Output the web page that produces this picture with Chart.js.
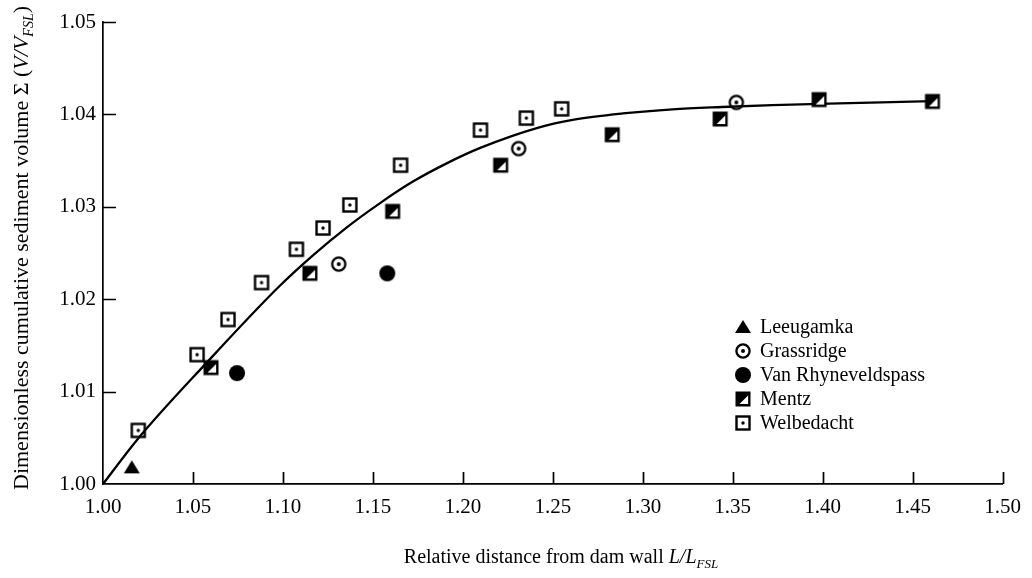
<!DOCTYPE html>
<html>
<head>
<meta charset="utf-8">
<title>Cumulative sediment volume</title>
<script src="https://cdn.jsdelivr.net/npm/chart.js@4"></script>
<style>
  html, body { margin: 0; padding: 0; background: #fff; }
  #wrap { width: 1032px; height: 578px; position: relative; }
</style>
</head>
<body>
<div id="wrap"><canvas id="chart"></canvas></div>
<script>
// Reservoir survey points, relative distance vs dimensionless cumulative volume
const leeugamkaX = [1.016];
const leeugamkaY = [1.0018];

const grassridgeX = [1.131, 1.231, 1.352];
const grassridgeY = [1.0238, 1.0363, 1.0413];

const vanRhynX = [1.0745, 1.158];
const vanRhynY = [1.0120, 1.0228];

const mentzX = [1.060, 1.115, 1.161, 1.221, 1.283, 1.343, 1.398, 1.461];
const mentzY = [1.0126, 1.0228, 1.0295, 1.0345, 1.0378, 1.0395, 1.0416, 1.0414];

const welbedachtX = [1.0196, 1.0523, 1.0695, 1.0881, 1.1075, 1.1223, 1.1372, 1.1654, 1.2098, 1.2353, 1.2549];
const welbedachtY = [1.0058, 1.0140, 1.0178, 1.0218, 1.0254, 1.0277, 1.0302, 1.0345, 1.0383, 1.0396, 1.0406];

// fitted curve through the data
const curveX = [1.000, 1.019, 1.057, 1.098, 1.117, 1.135, 1.154, 1.172, 1.191, 1.210, 1.2425, 1.261, 1.289, 1.3165, 1.344, 1.372, 1.409, 1.455, 1.4645];
const curveY = [1.0000, 1.0048, 1.0130, 1.0214, 1.0248, 1.0277, 1.0304, 1.0327, 1.0347, 1.0364, 1.0386, 1.0394, 1.0401, 1.04055, 1.0408, 1.0410, 1.0412, 1.0414, 1.04145];

const xTicks = [1.00, 1.05, 1.10, 1.15, 1.20, 1.25, 1.30, 1.35, 1.40, 1.45, 1.50];
const yTicks = [1.00, 1.01, 1.02, 1.03, 1.04, 1.05];

const SERIF = '"Liberation Serif", "DejaVu Serif", serif';

const toPoints = (xs, ys) => xs.map((x, i) => ({ x, y: ys[i] }));

// small canvases used as point styles
const makeMarker = (kind) => {
  const s = 20;
  const c = document.createElement('canvas');
  c.width = s;
  c.height = s;
  const g = c.getContext('2d');
  const m = s / 2;
  g.fillStyle = '#000';
  g.strokeStyle = '#000';
  if (kind === 'triangle') {
    g.beginPath();
    g.moveTo(m, m - 7);
    g.lineTo(m + 8, m + 6);
    g.lineTo(m - 8, m + 6);
    g.closePath();
    g.fill();
  } else if (kind === 'ringdot') {
    g.lineWidth = 2.3;
    g.beginPath();
    g.arc(m, m, 6.6, 0, Math.PI * 2);
    g.stroke();
    g.beginPath();
    g.arc(m, m, 2, 0, Math.PI * 2);
    g.fill();
  } else if (kind === 'disc') {
    g.beginPath();
    g.arc(m, m, 8, 0, Math.PI * 2);
    g.fill();
  } else if (kind === 'halfsquare') {
    const a = m - 7.5;
    g.fillRect(a, a, 15, 15);
    g.fillStyle = '#fff';
    g.beginPath();
    g.moveTo(a + 12.6, a + 4);
    g.lineTo(a + 12.6, a + 12.6);
    g.lineTo(a + 4, a + 12.6);
    g.closePath();
    g.fill();
  } else if (kind === 'squaredot') {
    g.lineWidth = 2.4;
    g.strokeRect(m - 6.5, m - 6.5, 13, 13);
    g.beginPath();
    g.arc(m, m, 1.7, 0, Math.PI * 2);
    g.fill();
  }
  return c;
};

const scatterSet = (label, xs, ys, kind) => ({
  type: 'scatter',
  label,
  data: toPoints(xs, ys),
  pointStyle: makeMarker(kind),
  showLine: false,
  order: 1,
});

// inward tick marks on both axes
const innerTicks = {
  id: 'innerTicks',
  afterDraw(chart) {
    const { ctx, chartArea, scales } = chart;
    ctx.save();
    ctx.strokeStyle = '#000';
    ctx.lineWidth = 1.7;
    ctx.beginPath();
    xTicks.forEach(v => {
      const px = Math.round(scales.x.getPixelForValue(v)) + 0.5;
      if (v === xTicks[0]) return;
      ctx.moveTo(px, chartArea.bottom);
      ctx.lineTo(px, chartArea.bottom - 12);
    });
    yTicks.forEach(v => {
      const py = Math.round(scales.y.getPixelForValue(v)) + 0.5;
      if (v === yTicks[0]) return;
      ctx.moveTo(chartArea.left, py);
      ctx.lineTo(chartArea.left + 13, py);
    });
    ctx.stroke();
    ctx.restore();
  },
};

// draws a run of text pieces with mixed styles, returns total width
const drawRuns = (ctx, runs, x, y, measureOnly) => {
  let cx = x;
  runs.forEach(r => {
    ctx.font = `${r.italic ? 'italic ' : ''}${r.size}px ${SERIF}`;
    if (!measureOnly) ctx.fillText(r.text, cx, y + (r.dy || 0));
    cx += ctx.measureText(r.text).width;
  });
  return cx - x;
};

const axisTitles = {
  id: 'axisTitles',
  afterDraw(chart) {
    const { ctx } = chart;
    ctx.save();
    ctx.fillStyle = '#000';
    ctx.textBaseline = 'alphabetic';
    ctx.textAlign = 'left';

    const xRuns = [
      { text: 'Relative distance from dam wall ', size: 20 },
      { text: 'L/L', size: 20, italic: true },
      { text: 'FSL', size: 13, italic: true, dy: 5 },
    ];
    const xw = drawRuns(ctx, xRuns, 0, 0, true);
    drawRuns(ctx, xRuns, 561 - xw / 2, 563);

    const yRuns = [
      { text: 'Dimensionless cumulative sediment volume \u03A3 (', size: 22 },
      { text: 'V/V', size: 22, italic: true },
      { text: 'FSL', size: 14, italic: true, dy: 5 },
      { text: ')', size: 22 },
    ];
    const yw = drawRuns(ctx, yRuns, 0, 0, true);
    ctx.translate(28, 248);
    ctx.rotate(-Math.PI / 2);
    drawRuns(ctx, yRuns, -yw / 2, 0);
    ctx.restore();
  },
};

// legend box inside the plot
const legendBox = {
  id: 'legendBox',
  afterDraw(chart) {
    const { ctx } = chart;
    const items = chart.data.datasets.filter(d => d.type === 'scatter');
    ctx.save();
    ctx.fillStyle = '#000';
    ctx.font = `20px ${SERIF}`;
    ctx.textBaseline = 'middle';
    ctx.textAlign = 'left';
    items.forEach((d, i) => {
      const y = 327 + i * 24;
      const img = d.pointStyle;
      ctx.drawImage(img, 743 - img.width / 2, y - img.height / 2);
      ctx.fillText(d.label, 760, y + 1);
    });
    ctx.restore();
  },
};

new Chart(document.getElementById('chart'), {
  data: {
    datasets: [
      scatterSet('Leeugamka', leeugamkaX, leeugamkaY, 'triangle'),
      scatterSet('Grassridge', grassridgeX, grassridgeY, 'ringdot'),
      scatterSet('Van Rhyneveldspass', vanRhynX, vanRhynY, 'disc'),
      scatterSet('Mentz', mentzX, mentzY, 'halfsquare'),
      scatterSet('Welbedacht', welbedachtX, welbedachtY, 'squaredot'),
      {
        type: 'line',
        label: 'fit',
        data: toPoints(curveX, curveY),
        borderColor: '#000',
        borderWidth: 2.3,
        pointRadius: 0,
        cubicInterpolationMode: 'monotone',
        fill: false,
        order: 2,
      },
    ],
  },
  options: {
    responsive: true,
    maintainAspectRatio: false,
    animation: false,
    layout: { padding: { left: 0, top: 22, right: 28, bottom: 0 } },
    plugins: {
      legend: { display: false },
      tooltip: { enabled: false },
    },
    scales: {
      x: {
        type: 'linear',
        min: 1.0,
        max: 1.5,
        afterBuildTicks: (scale) => { scale.ticks = xTicks.map(v => ({ value: v })); },
        afterFit: (scale) => { scale.height = 94; },
        grid: { display: false, drawTicks: false },
        border: { display: true, color: '#000', width: 1.7 },
        ticks: {
          color: '#000',
          font: { family: SERIF, size: 21 },
          padding: 11,
          maxRotation: 0,
          callback: (v) => Number(v).toFixed(2),
        },
      },
      y: {
        type: 'linear',
        min: 1.0,
        max: 1.05,
        afterBuildTicks: (scale) => { scale.ticks = yTicks.map(v => ({ value: v })); },
        afterFit: (scale) => { scale.width = 103; },
        grid: { display: false, drawTicks: false },
        border: { display: true, color: '#000', width: 1.7 },
        ticks: {
          color: '#000',
          font: { family: SERIF, size: 21 },
          padding: 7,
          callback: (v) => Number(v).toFixed(2),
        },
      },
    },
  },
  plugins: [innerTicks, axisTitles, legendBox],
});
</script>
</body>
</html>
